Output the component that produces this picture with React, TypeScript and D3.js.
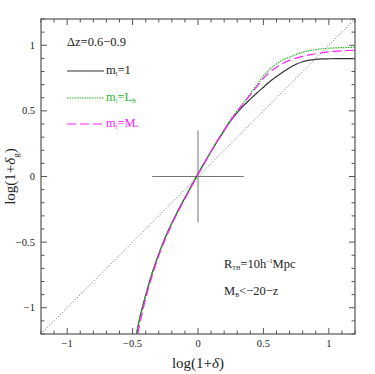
import React from "react";
import * as d3 from "d3";

// log(1+delta) sample points for the three bias curves
const xLow = [-0.47, -0.45, -0.4, -0.35, -0.3, -0.25, -0.2, -0.15, -0.1, -0.05, 0, 0.05, 0.1, 0.15, 0.2];
const yLowBlack = [-1.2, -1.1, -0.905, -0.735, -0.59, -0.465, -0.355, -0.255, -0.162, -0.07, 0.02, 0.106, 0.19, 0.272, 0.35];
const yLowGreen = [-1.2, -1.1, -0.905, -0.735, -0.59, -0.465, -0.355, -0.255, -0.162, -0.07, 0.022, 0.11, 0.195, 0.278, 0.357];
const xLowMag = [-0.46, -0.44, -0.4, -0.35, -0.3, -0.25, -0.2, -0.15, -0.1, -0.05, 0, 0.05, 0.1, 0.15, 0.2];
const yLowMag = [-1.2, -1.1, -0.93, -0.755, -0.605, -0.478, -0.366, -0.264, -0.17, -0.077, 0.015, 0.104, 0.19, 0.273, 0.353];

const xHigh = [0.25, 0.3, 0.35, 0.4, 0.45, 0.5, 0.55, 0.6, 0.65, 0.7, 0.75, 0.8, 0.85, 0.9, 0.95, 1.0, 1.1, 1.2];
const yHighBlack = [0.425, 0.487, 0.542, 0.59, 0.636, 0.68, 0.724, 0.762, 0.797, 0.829, 0.855, 0.874, 0.886, 0.893, 0.896, 0.897, 0.898, 0.898];
const yHighGreen = [0.435, 0.502, 0.566, 0.632, 0.7, 0.765, 0.818, 0.858, 0.888, 0.91, 0.93, 0.947, 0.959, 0.967, 0.973, 0.977, 0.982, 0.985];
const yHighMag = [0.43, 0.497, 0.56, 0.622, 0.686, 0.748, 0.795, 0.833, 0.863, 0.885, 0.902, 0.915, 0.926, 0.935, 0.943, 0.95, 0.958, 0.962];

const majorTicks = [-1, -0.5, 0, 0.5, 1];
const tickLabels = ["\u22121", "\u22120.5", "0", "0.5", "1"];

const W = 375;
const H = 374;
const m = { left: 41, right: 20, top: 19, bottom: 40 };

const x = d3.scaleLinear().domain([-1.2, 1.2]).range([m.left, W - m.right]);
const y = d3.scaleLinear().domain([-1.2, 1.2]).range([H - m.bottom, m.top]);

const minorTicks = d3.range(-12, 13).map((i) => i / 10);

const zip = (xs: number[], ys: number[]) => xs.map((v, i) => [v, ys[i]] as [number, number]);

const line = d3
  .line<[number, number]>()
  .x((d) => x(d[0]))
  .y((d) => y(d[1]))
  .curve(d3.curveCatmullRom.alpha(0.5));

const blackPts = zip(xLow, yLowBlack).concat(zip(xHigh, yHighBlack));
const greenPts = zip(xLow, yLowGreen).concat(zip(xHigh, yHighGreen));
const magPts = zip(xLowMag, yLowMag).concat(zip(xHigh, yHighMag));

const GREEN = "#2db52d";
const MAG = "#ff20ff";
const AX = "#555";
const serif = "'Liberation Serif', 'Times New Roman', 'DejaVu Serif', serif";

export default function App() {
  const x0 = m.left;
  const x1 = W - m.right;
  const y0 = H - m.bottom;
  const y1 = m.top;
  const isMajor = (t: number) => Math.abs(t * 2 - Math.round(t * 2)) < 1e-6;

  return (
    <svg width={W} height={H} style={{ position: "absolute", left: 0, top: 0, fontFamily: serif }}>
      <defs>
        <clipPath id="plot">
          <rect x={x0} y={y1} width={x1 - x0} height={y0 - y1} />
        </clipPath>
      </defs>
      <g clipPath="url(#plot)">
        {/* y = x reference */}
        <line x1={x(-1.2)} y1={y(-1.2)} x2={x(1.2)} y2={y(1.2)} stroke="#555" strokeWidth={0.9} strokeDasharray="1,2" />
        {/* cross at origin */}
        <line x1={x(-0.35)} y1={y(0)} x2={x(0.35)} y2={y(0)} stroke="#777" strokeWidth={1} />
        <line x1={x(0)} y1={y(-0.35)} x2={x(0)} y2={y(0.35)} stroke="#777" strokeWidth={1} />
        <path d={line(blackPts) || ""} fill="none" stroke="#333" strokeWidth={1.2} />
        <path d={line(greenPts) || ""} fill="none" stroke={GREEN} strokeWidth={1.2} strokeDasharray="1.5,1" />
        <path d={line(magPts) || ""} fill="none" stroke={MAG} strokeWidth={1.2} strokeDasharray="9,4" />
      </g>

      {/* frame */}
      <rect x={x0} y={y1} width={x1 - x0} height={y0 - y1} fill="none" stroke={AX} strokeWidth={1.2} />
      {minorTicks.map((t) => {
        const len = isMajor(t) ? 6 : 3.5;
        return (
          <g key={t} stroke={AX} strokeWidth={1}>
            <line x1={x(t)} x2={x(t)} y1={y0} y2={y0 - len} />
            <line x1={x(t)} x2={x(t)} y1={y1} y2={y1 + len} />
            <line y1={y(t)} y2={y(t)} x1={x0} x2={x0 + len} />
            <line y1={y(t)} y2={y(t)} x1={x1} x2={x1 - len} />
          </g>
        );
      })}
      {majorTicks.map((t, i) => (
        <g key={"l" + t} fontSize={10.5} fill="#222">
          <text x={x(t)} y={y0 + 13} textAnchor="middle">{tickLabels[i]}</text>
          <text x={x0 - 6} y={y(t) + 3.5} textAnchor="end">{tickLabels[i]}</text>
        </g>
      ))}

      {/* axis titles */}
      <text x={x(0)} y={H - 6} textAnchor="middle" fontSize={15} fill="#222">
        log(1+<tspan fontStyle="italic">δ</tspan>)
      </text>
      <text transform={`translate(15,${y(0)}) rotate(-90)`} textAnchor="middle" fontSize={15} fill="#222">
        log(1+<tspan fontStyle="italic">δ</tspan>
        <tspan fontSize={9} dy={4}>g</tspan>
        <tspan dy={-4}>)</tspan>
      </text>

      {/* legend */}
      <text x={67} y={46} fontSize={12.5} fill="#222">Δz=0.6−0.9</text>
      <line x1={67} x2={104} y1={71} y2={71} stroke="#333" strokeWidth={1.2} />
      <text x={106} y={74} fontSize={12.5} fill="#222">
        m<tspan fontSize={6} dy={2}>l</tspan><tspan dy={-2}>=1</tspan>
      </text>
      <line x1={67} x2={104} y1={98} y2={98} stroke={GREEN} strokeWidth={1.2} strokeDasharray="1.5,1" />
      <text x={106} y={101} fontSize={12.5} fill={GREEN}>
        m<tspan fontSize={6} dy={2}>l</tspan><tspan dy={-2}>=L</tspan>
        <tspan fontSize={6} dy={2}>B</tspan>
      </text>
      <line x1={67} x2={104} y1={124} y2={124} stroke={MAG} strokeWidth={1.2} strokeDasharray="9,4" />
      <text x={106} y={127} fontSize={12.5} fill={MAG}>
        m<tspan fontSize={6} dy={2}>l</tspan><tspan dy={-2}>=M</tspan>
        <tspan fontSize={6} dy={2}>*</tspan>
      </text>

      {/* annotations */}
      <text x={224} y={268} fontSize={12.5} fill="#222">
        R<tspan fontSize={6} dy={2}>TH</tspan><tspan dy={-2}>=10h</tspan>
        <tspan fontSize={6} dy={-5}>−1</tspan><tspan dy={5}>Mpc</tspan>
      </text>
      <text x={224} y={295} fontSize={12.5} fill="#222">
        M<tspan fontSize={6} dy={2}>B</tspan><tspan dy={-2}>&lt;−20−z</tspan>
      </text>
    </svg>
  );
}
